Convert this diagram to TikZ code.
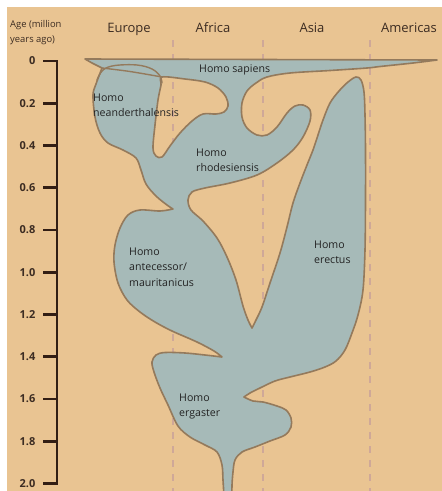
\documentclass[tikz,border=0pt]{standalone}
\usepackage{fontspec}
\setmainfont{Open Sans}
\definecolor{bg}{RGB}{233,196,146}
\definecolor{spfill}{RGB}{166,186,184}
\definecolor{spedge}{RGB}{148,122,92}
\definecolor{dashc}{RGB}{207,168,152}
\definecolor{txt}{RGB}{35,35,35}
\definecolor{hdr}{RGB}{60,44,34}
\definecolor{axisc}{RGB}{50,30,20}
\begin{document}
\begin{tikzpicture}[x=1pt,y=-1pt,
  region/.style={fill=spfill,draw=spedge,line width=1.6pt,line join=round,even odd rule},
  edgeline/.style={draw=spedge,line width=1.4pt,line cap=round},
  guide/.style={draw=dashc,line width=2pt,dash pattern=on 7pt off 7pt},
  splabel/.style={font=\fontsize{10.6}{15.2}\selectfont,text=txt,align=left,anchor=north west,inner sep=0pt},
  header/.style={font=\fontsize{13}{15}\selectfont,text=hdr,anchor=base,inner sep=0pt},
  ticklabel/.style={font=\fontsize{11}{13}\selectfont\bfseries,text=hdr,anchor=base east,inner sep=0pt},
  axisline/.style={draw=axisc,line width=2.6pt}]
\useasboundingbox (0,0) rectangle (442,491);
\fill[white] (0,0) rectangle (442,491);
\fill[bg] (7,7) rectangle (442,491);

% dashed guide lines
\coordinate (g1t) at (173,40); \coordinate (g1b) at (173,495);
\coordinate (g2t) at (263,40); \coordinate (g2b) at (263,495);
\coordinate (g3t) at (370,40); \coordinate (g3b) at (370,495);
\draw[guide] (g1t) -- (g1b);
\draw[guide] (g2t) -- (g2b);
\draw[guide] (g3t) -- (g3b);

\begin{scope}
\clip (7,7) rectangle (442,491);
% main region (with the enclosed notch as a hole)
\path[region]
  (85,59) -- (437,60)
  -- plot[smooth,tension=0.55] coordinates {(437,60) (413,63) (380,66.5) (367,68) (330,70.5) (290,73) (267,77) (256,83) (247,91) (242,103) (242,117) (247,128) (257,135) (267,135) (277,127) (287,113) (295,106) (303,105) (310,110) (310,121) (303,137) (293,150) (277,163) (257,175) (230,183) (205,188) (192,192) (188,200) (191,210) (203,221) (217,238) (227,257) (236,280) (243,306) (248,320) (252,328)}
  -- plot[smooth,tension=0.55] coordinates {(252,328) (256,320) (262,307) (270,283) (280,253) (287,227) (293,203) (300,183) (307,165) (313,150) (318,135) (323,120) (330,103) (339,91) (348,82) (356,77) (361,80) (364,92) (365,115) (365.5,150) (365.5,200) (365,250) (363,290) (358,315) (352,333) (345,350) (336,361) (325,367) (310,372) (290,377) (275,381) (260,388) (250,393) (244,397)}
  -- plot[smooth,tension=0.55] coordinates {(244,397) (253,401) (263,402) (277,406) (286,410) (291,418) (291,427) (285,435) (270,441) (255,447) (242,452) (235,460) (233,472) (232,485) (232,496)}
  -- (224,496)
  -- plot[smooth,tension=0.55] coordinates {(224,496) (223,480) (222,465) (217,452) (205,445) (190,437) (178,426) (168,405) (160,388) (154,372) (152,362) (156,355) (165,352.5) (185,353) (205,355) (222,357)}
  -- plot[smooth,tension=0.55] coordinates {(222,357) (214,351) (197,342) (172,331) (155,322) (140,312) (127,300) (118,283) (114,262) (115,245) (120,228) (128,215) (140,210) (160,211) (173,209)}
  -- plot[smooth,tension=0.55] coordinates {(173,209) (167,205) (156,196) (146,184) (141,170) (136,158) (123,150) (108,143) (100,133) (95,117) (93,95) (96,84) (102,68)}
  -- (92,63) -- cycle
  plot[smooth cycle,tension=0.55] coordinates {(162,77) (185,79) (205,82) (218,88) (226,97) (228,106) (224,112) (216,114) (203,114) (192,121) (180,133) (170,146) (162,157) (156,156) (153,148) (155,125) (158,100) (161,85)};
% inner outlines where Homo neanderthalensis overlaps Homo sapiens
\coordinate (nb1) at (102,68); \coordinate (nb2) at (162,77);
\draw[edgeline] plot[smooth,tension=0.55] coordinates {(102,68) (130,71.5) (162,77)};
\draw[edgeline] plot[smooth,tension=0.6] coordinates {(97,80) (103,70) (115,65.5) (137,65) (152,69) (160,76) (162,83)};
\end{scope}

% axis
\coordinate (ax0) at (43,61); \coordinate (axT) at (57,61);
\coordinate (axB) at (57,483.5); \coordinate (ax20) at (43,483.5);
\draw[axisline,line join=miter] (ax0) -- (axT) -- (axB) -- (ax20);
\foreach \k/\lab in {1/0.2,2/0.4,3/0.6,4/0.8,5/1.0,6/1.2,7/1.4,8/1.6,9/1.8}{
  \coordinate (tk\k a) at (43,61+42.25*\k);
  \coordinate (tk\k b) at (57,61+42.25*\k);
  \draw[axisline] (tk\k a) -- (tk\k b);
  \node[ticklabel] (tl\k) at (35.5,61+42.25*\k+3.9) {\lab};
}
\node[ticklabel] (tl0) at (35.5,64.9) {0};
\node[ticklabel] (tl10) at (35.5,487.4) {2.0};

\node[font=\fontsize{9.4}{14.5}\selectfont,text=hdr,align=left,anchor=north west,inner sep=0pt] (agelab) at (10,20.5) {Age (million\\years ago)};

% headers
\node[header] (eu) at (129,32) {Europe};
\node[header] (af) at (213,32) {Africa};
\node[header] (as) at (312,32) {Asia};
\node[header] (am) at (409,32) {Americas};

% species labels
\node[splabel] (sap) at (199,65) {Homo sapiens};
\node[splabel] (nea) at (93,94) {Homo\\neanderthalensis};
\node[splabel] (rho) at (196,149) {Homo\\rhodesiensis};
\node[splabel] (ant) at (129,248) {Homo\\antecessor/\\mauritanicus};
\node[splabel] (ere) at (314,241) {Homo\\erectus};
\node[splabel] (erg) at (179,394) {Homo\\ergaster};
\end{tikzpicture}
\end{document}
